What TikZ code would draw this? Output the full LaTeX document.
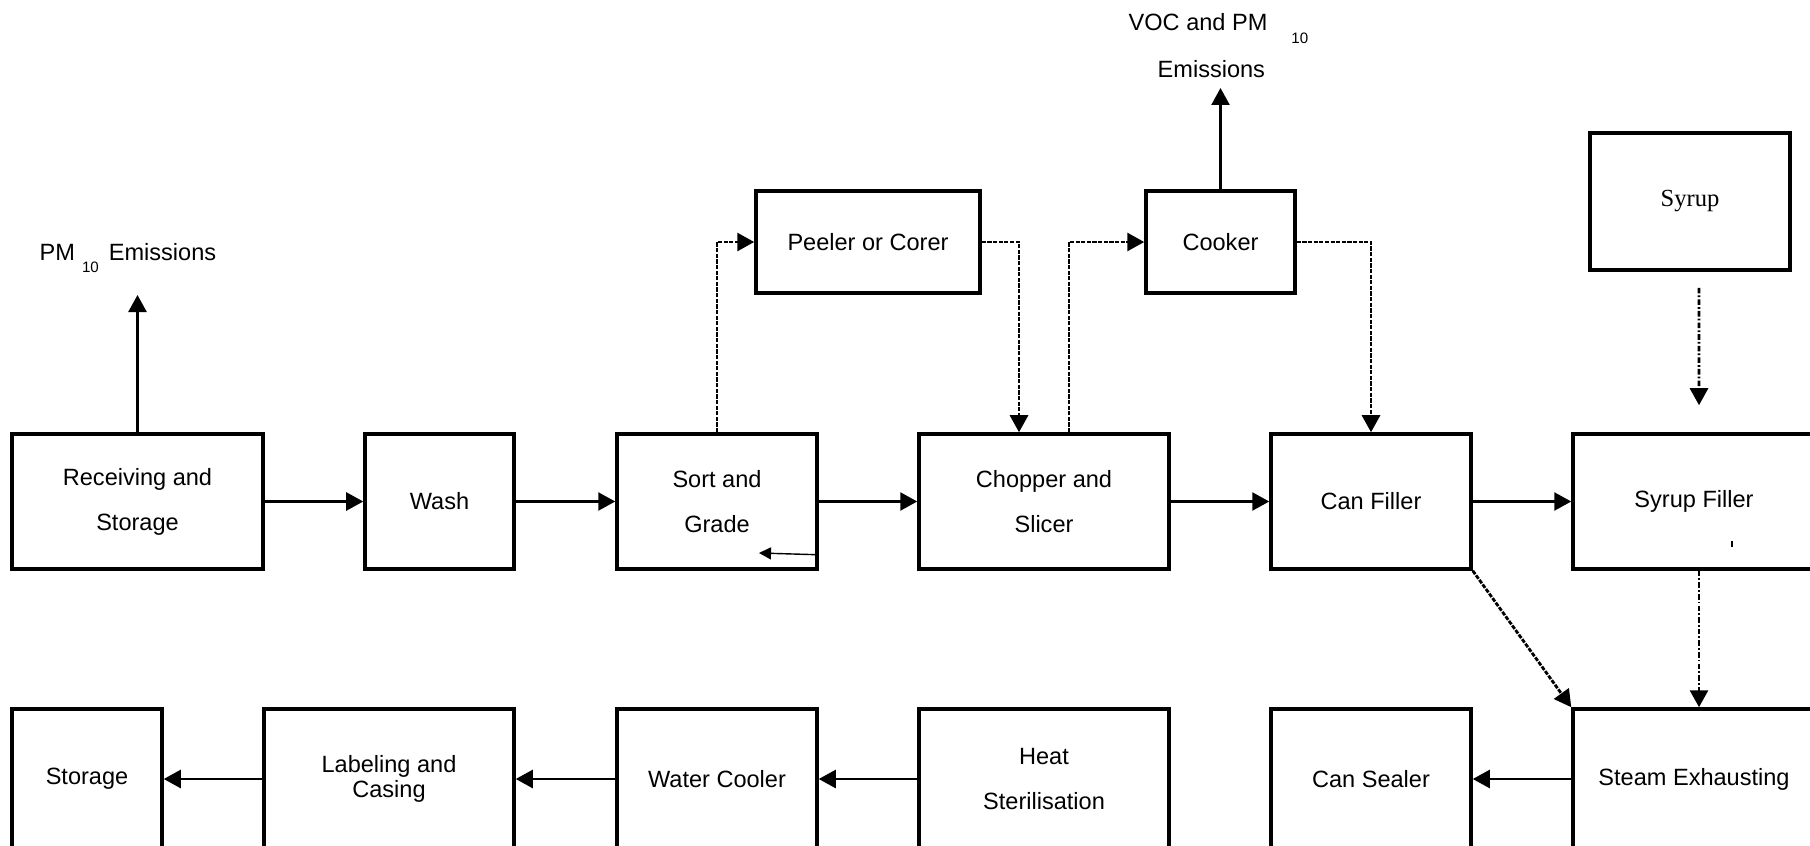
\documentclass[tikz,border=0pt]{standalone}
\usepackage{fontspec}
\setmainfont{Liberation Sans}
\newfontfamily\syrupfont{Liberation Serif}
\usetikzlibrary{arrows.meta}
\tikzset{
  box/.style={draw, line width=1pt, inner sep=0pt, align=center, font=\fontsize{6.7}{12.8}\selectfont},
  upper/.style={box, minimum height=1.35cm},
  lower/.style={box, minimum height=1.40cm},
  flow/.style={line width=0.7pt, -{Triangle[length=0.17cm,width=0.18cm]}},
  dashflow/.style={flow, line width=0.8pt, dash pattern=on 1.2pt off 0.4pt},
  dashdotflow/.style={flow, line width=0.8pt, dash pattern=on 1.6pt off 0.6pt on 0.5pt off 0.6pt},
  emis/.style={font=\fontsize{6.7}{12.8}\selectfont, inner sep=0pt}
}
\newcommand{\subten}{\raisebox{-0.12cm}{\fontsize{4.3}{5}\selectfont 10}}

\begin{document}
\begin{tikzpicture}
\useasboundingbox (0,0) rectangle (18.10,8.45);

\node[upper, minimum width=2.51cm] (recv) at (1.375,3.435) {Receiving and\\Storage};
\node[upper, minimum width=1.49cm] (wash) at (4.395,3.435) {Wash};
\node[upper, minimum width=2.00cm] (sort) at (7.17,3.435) {Sort and\\Grade};
\node[upper, minimum width=2.50cm] (chop) at (10.44,3.435) {Chopper and\\Slicer};
\node[upper, minimum width=2.00cm] (canf) at (13.71,3.435) {Can Filler};
\node[upper, minimum width=2.42cm] (syrf) at (16.94,3.435) {Syrup Filler};

\node[box, minimum width=2.24cm, minimum height=1.02cm] (peel) at (8.68,6.03) {Peeler or Corer};
\node[box, minimum width=1.49cm, minimum height=1.02cm] (cook) at (12.205,6.03) {Cooker};
\node[box, minimum width=2.00cm, minimum height=1.37cm, font=\syrupfont\fontsize{7}{8}\selectfont] (syr) at (16.90,6.435) {Syrup};

\node[lower, minimum width=1.50cm] (store) at (0.87,0.66) {Storage};
\node[lower, minimum width=2.50cm] (label) at (3.89,0.66) {Labeling and\\[-5.7pt]Casing};
\node[lower, minimum width=2.00cm] (cool) at (7.17,0.66) {Water Cooler};
\node[lower, minimum width=2.50cm] (heat) at (10.44,0.66) {Heat\\Sterilisation};
\node[lower, minimum width=2.00cm] (seal) at (13.71,0.66) {Can Sealer};
\node[lower, minimum width=2.42cm] (steam) at (16.94,0.66) {Steam Exhausting};

\draw[flow] (recv) -- (wash);
\draw[flow] (wash) -- (sort);
\draw[flow] (sort) -- (chop);
\draw[flow] (chop) -- (canf);
\draw[flow] (canf) -- (syrf);
\draw[flow] (steam) -- (seal);
\draw[flow] (heat) -- (cool);
\draw[flow] (cool) -- (label);
\draw[flow] (label) -- (store);

\coordinate (pmtip) at (1.375,5.50);
\draw[flow] (recv.north) -- (pmtip);
\node[emis, anchor=base west] (pm) at (0.39,5.85) {PM\hspace{0.07cm}\subten\hspace{0.10cm}Emissions};

\coordinate (voctip) at (12.205,7.57);
\draw[flow] (cook.north) -- (voctip);
\node[emis, anchor=base west] (voc) at (11.28,8.14) {VOC and PM\hspace{0.24cm}\subten};
\node[emis, anchor=base west] (vocem) at (11.57,7.68) {Emissions};

\draw[dashflow] (sort.north) |- (peel.west);
\draw[dashflow] (peel.east) -| ([xshift=-0.25cm]chop.north);
\draw[dashflow] ([xshift=0.25cm]chop.north) |- (cook.west);
\draw[dashflow] (cook.east) -| (canf.north);
\draw[dashdotflow] ([shift={(0.09,-0.16)}]syr.south) -- ([shift={(0.05,0.27)}]syrf.north);
\draw[dashdotflow] ([xshift=0.05cm]syrf.south) -- ([xshift=0.05cm]steam.north);
\draw[dashflow] (canf.south east) -- (steam.north west);

\coordinate (sorttip) at (7.59,2.92);
\draw[line width=0.4pt, -{Triangle[length=0.12cm,width=0.12cm]}] ([yshift=0.16cm]sort.south east) -- (sorttip);
\draw[line width=0.6pt] (17.32,3.04) -- (17.32,2.98);

\end{tikzpicture}
\end{document}
